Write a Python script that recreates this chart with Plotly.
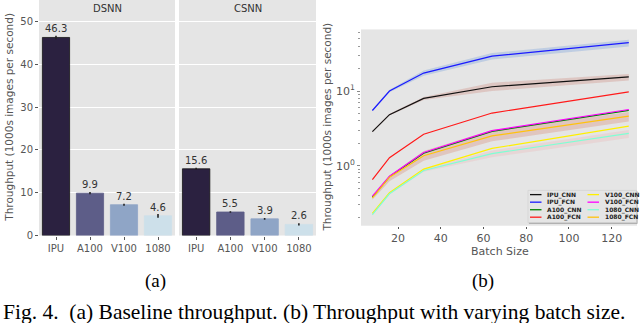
import plotly.graph_objects as go

# ---------------- data ----------------
devices = ["IPU", "A100", "V100", "1080"]
dsnn = [46.3, 9.9, 7.2, 4.6]
csnn = [15.6, 5.5, 3.9, 2.6]
dsnn_err = [0.4, 0.25, 0.25, 0.45]
csnn_err = [0.25, 0.2, 0.2, 0.25]

batch = [8, 16, 32, 64, 128]
ipu_cnn = [2.86, 4.82, 7.96, 11.4, 15.5]
ipu_fcn = [5.48, 10.0, 17.4, 29.3, 44.5]
a100_cnn = [0.38, 0.71, 1.47, 2.88, 5.5]
a100_fcn = [0.65, 1.28, 2.64, 5.07, 9.75]
v100_cnn = [0.229, 0.435, 0.90, 1.70, 3.39]
v100_fcn = [0.39, 0.72, 1.50, 2.95, 5.65]
gpu1080_cnn = [0.22, 0.42, 0.86, 1.45, 2.7]
gpu1080_fcn = [0.37, 0.70, 1.36, 2.5, 4.6]

# confidence bands
ipu_fcn_lo = [5.35, 9.6, 16.0, 26.4, 39.5]
ipu_fcn_hi = [5.6, 10.4, 18.8, 32.2, 48.8]
ipu_cnn_lo = [2.8, 4.7, 7.6, 10.0, 13.8]
ipu_cnn_hi = [2.92, 4.95, 8.3, 12.9, 16.9]
gpu1080_fcn_lo = [0.35, 0.62, 1.16, 2.12, 3.9]
gpu1080_fcn_hi = [0.39, 0.74, 1.57, 3.0, 5.25]
gpu1080_cnn_lo = [0.215, 0.41, 0.83, 1.3, 2.34]
gpu1080_cnn_hi = [0.225, 0.44, 0.9, 1.6, 3.0]

x_ticks = [20, 40, 60, 80, 100, 120]
y_major = [1, 10]
y_major_text = ["10<sup>0</sup>", "10<sup>1</sup>"]
y_minor = [0.2, 0.3, 0.4, 0.5, 0.6, 0.7, 0.8, 0.9, 2, 3, 4, 5, 6, 7, 8, 9, 20, 30, 40, 50, 60]

# ---------------- styles ----------------
W, H = 640, 323
def px(x): return x / W
def py(y): return 1 - y / H

FONT = "DejaVu Sans"
SERIF = "Liberation Serif"
TICK = "#555555"
BG = "#e5e5e5"

bar_colors = ["#2b2140", "#5d5d88", "#8fa5c6", "#cde0ea"]
bar_edges = ["#141414", "#5d5d88", "#8fa5c6", "#cde0ea"]

series = [
    ("IPU_CNN", ipu_cnn, "#111111"),
    ("IPU_FCN", ipu_fcn, "#1a1aff"),
    ("A100_CNN", a100_cnn, "#008000"),
    ("A100_FCN", a100_fcn, "#ff1a1a"),
    ("V100_CNN", v100_cnn, "#fff000"),
    ("V100_FCN", v100_fcn, "#ff00ff"),
    ("1080_CNN", gpu1080_cnn, "#7fffd4"),
    ("1080_FCN", gpu1080_fcn, "#ffc20e"),
]
bands = [
    (ipu_fcn_lo, ipu_fcn_hi, "rgba(120,160,220,0.35)"),
    (ipu_cnn_lo, ipu_cnn_hi, "rgba(205,140,130,0.35)"),
    (gpu1080_fcn_lo, gpu1080_fcn_hi, "rgba(215,140,120,0.35)"),
    (gpu1080_cnn_lo, gpu1080_cnn_hi, "rgba(240,170,170,0.25)"),
]

fig = go.Figure()

# ---------------- (a) bars ----------------
for vals, errs, xa, ya in [(dsnn, dsnn_err, "x", "y"), (csnn, csnn_err, "x2", "y2")]:
    fig.add_trace(go.Bar(
        x=devices, y=vals, xaxis=xa, yaxis=ya, width=0.8,
        marker=dict(color=bar_colors, line=dict(color=bar_edges, width=0.8)),
        error_y=dict(type="data", array=errs, color="#222222", thickness=1.6, width=0),
        showlegend=False))
    for i, v in enumerate(vals):
        fig.add_annotation(x=i, y=v, xref=xa, yref=ya, text=f"{v:.1f}", showarrow=False,
                           yanchor="bottom", yshift=1,
                           font=dict(size=10, color="#333333", family=FONT))

# ---------------- (b) lines ----------------
for lo, hi, col in bands:
    fig.add_trace(go.Scatter(x=batch + batch[::-1], y=hi + lo[::-1], fill="toself",
                             fillcolor=col, line=dict(width=0), mode="lines",
                             xaxis="x3", yaxis="y3", showlegend=False, hoverinfo="skip"))
for name, vals, col in series:
    fig.add_trace(go.Scatter(x=batch, y=vals, mode="lines", name=name,
                             line=dict(color=col, width=1.2),
                             xaxis="x3", yaxis="y3", showlegend=False))

# ---------------- axes ----------------
tickfont = dict(size=10, color=TICK, family=FONT)
common_x = dict(type="category", range=[-0.5, 3.5], showgrid=False, zeroline=False,
                ticks="outside", ticklen=3, tickcolor=TICK, tickfont=tickfont, showline=False)
common_y = dict(range=[0, 55.05], showgrid=True, gridcolor="white", gridwidth=1,
                zeroline=False, tickvals=[0, 10, 20, 30, 40, 50], tickfont=tickfont,
                showline=False, tickcolor=TICK, ticklen=3)

ydom = [py(240), 1.0]
fig.update_layout(
    xaxis=dict(domain=[px(39), px(175)], anchor="y", **common_x),
    yaxis=dict(domain=ydom, anchor="x", ticks="outside", **common_y),
    xaxis2=dict(domain=[px(179), px(316)], anchor="y2", **common_x),
    yaxis2=dict(domain=ydom, anchor="x2", showticklabels=False, ticks="", **common_y),
)

fig.update_layout(
    xaxis3=dict(domain=[px(361), px(637)], anchor="y3", range=[2.67, 131.84],
                showgrid=False, zeroline=False, ticks="outside", ticklen=2, tickcolor=TICK,
                tickvals=x_ticks, tickfont=dict(size=11, color=TICK, family=FONT)),
    yaxis3=dict(domain=[py(230), py(30)], anchor="x3", type="log", range=[-0.805, 1.825],
                showgrid=False, zeroline=False, ticks="outside", ticklen=3, tickcolor="#888",
                tickvals=y_major, ticktext=y_major_text,
                minor=dict(tickvals=y_minor, ticks="outside", ticklen=2, tickcolor="#999",
                           showgrid=False),
                tickfont=dict(size=11, color=TICK, family=FONT)),
)

# ---------------- text ----------------
ann = [
    dict(x=px(107), y=py(9), text="DSNN", font=dict(size=10, color="#333", family=FONT)),
    dict(x=px(247.5), y=py(9), text="CSNN", font=dict(size=10, color="#333", family=FONT)),
    dict(x=px(9), y=py(120), text="Throughput (1000s images per second)", textangle=-90,
         font=dict(size=10.5, color=TICK, family=FONT)),
    dict(x=px(327), y=py(130), text="Throughput (1000s images per second)", textangle=-90,
         font=dict(size=10.5, color=TICK, family=FONT)),
    dict(x=px(500), y=py(256), text="Batch Size", font=dict(size=11, color=TICK, family=FONT)),
    dict(x=px(155), y=py(286), text="(a)", font=dict(size=19, color="black", family=SERIF)),
    dict(x=px(483), y=py(286), text="(b)", font=dict(size=19, color="black", family=SERIF)),
    dict(x=px(1), y=py(318), xanchor="left",
         text="Fig. 4.  (a) Baseline throughput. (b) Throughput with varying batch size.",
         font=dict(size=21.5, color="black", family=SERIF)),
]
for a in ann:
    a.setdefault("xanchor", "center")
    fig.add_annotation(xref="paper", yref="paper", showarrow=False, yanchor="middle", **a)

# ---------------- manual legend ----------------
fig.add_shape(type="rect", xref="paper", yref="paper", x0=px(529), x1=px(637.5),
              y0=py(195), y1=py(228), fillcolor="#9a9a9a", line=dict(width=0))
fig.add_shape(type="rect", xref="paper", yref="paper", x0=px(528), x1=px(636.5),
              y0=py(194), y1=py(227), fillcolor=BG, line=dict(color="#cccccc", width=0.6))
rows = [198.3, 206, 213.7, 221.3]
for i, (name, vals, col) in enumerate(series):
    c = i // 4
    r = rows[i % 4]
    x0 = 530 if c == 0 else 587.5
    fig.add_shape(type="line", xref="paper", yref="paper", x0=px(x0), x1=px(x0 + 11.5),
                  y0=py(r), y1=py(r), line=dict(color=col, width=1.3))
    fig.add_annotation(xref="paper", yref="paper", x=px(x0 + 15), y=py(r), xanchor="left",
                       yanchor="middle", showarrow=False, text=f"<b>{name}</b>",
                       font=dict(size=6, color="#222", family=FONT))

fig.update_layout(width=W, height=H, margin=dict(l=0, r=0, t=0, b=0),
                  paper_bgcolor="white", plot_bgcolor=BG, showlegend=False,
                  bargap=0.2)

fig.write_html("out.html", config={"displayModeBar": False},
               post_script="document.body.style.margin='0';document.body.style.overflow='hidden';")
